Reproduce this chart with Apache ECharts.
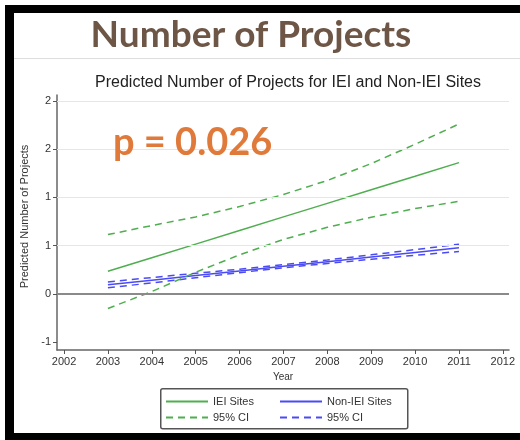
<!DOCTYPE html>
<html>
<head>
<meta charset="utf-8">
<script src="https://cdn.jsdelivr.net/npm/echarts@6/dist/echarts.min.js"></script>
<style>html,body{margin:0;padding:0;background:#fff;overflow:hidden;}#c{width:520px;height:440px;}</style>
</head>
<body>
<div id="c"></div>
<script>
const years = [2003, 2004, 2005, 2006, 2007, 2008, 2009, 2010, 2011];
const ieiFit   = [0.235, 0.376, 0.516, 0.657, 0.798, 0.938, 1.079, 1.219, 1.36];
const ieiUpper = [0.615, 0.708, 0.798, 0.905, 1.03, 1.175, 1.35, 1.55, 1.76];
const ieiLower = [-0.15, 0.025, 0.225, 0.405, 0.565, 0.69, 0.795, 0.884, 0.96];
const nonFit   = [0.095, 0.143, 0.191, 0.239, 0.287, 0.334, 0.382, 0.43, 0.478];
const nonUpper = [0.125, 0.17, 0.214, 0.257, 0.303, 0.352, 0.405, 0.459, 0.515];
const nonLower = [0.065, 0.114, 0.168, 0.221, 0.271, 0.316, 0.359, 0.401, 0.44];
const xTickYears = [2002, 2003, 2004, 2005, 2006, 2007, 2008, 2009, 2010, 2011, 2012];
const yTickValues = [-0.5, 0, 0.5, 1, 1.5, 2];
const yTickLabels = ['-1', '0', '1', '1', '2', '2'];
const gridValues = [0.5, 1, 1.5, 2];
const legendIEI = ['IEI Sites', 'IEI 95% CI'];
const legendNon = ['Non-IEI Sites', 'Non-IEI 95% CI'];
const legendLabel = {'IEI Sites': 'IEI Sites', 'IEI 95% CI': '95% CI', 'Non-IEI Sites': 'Non-IEI Sites', 'Non-IEI 95% CI': '95% CI'};

const GREEN = '#4fae4f';
const BLUE = '#4b4bf5';
const pair = arr => years.map((y, i) => [y, arr[i]]);

const chart = echarts.init(document.getElementById('c'), null, {renderer: 'canvas'});
const FONT = '"Liberation Sans", Arial, sans-serif';

function lineSeries(name, data, color, dashed, extra) {
  return Object.assign({
    name: name,
    type: 'line',
    data: pair(data),
    symbol: 'none',
    silent: true,
    lineStyle: {color: color, width: 1.5, type: dashed ? [7, 5] : 'solid'},
    itemStyle: {color: color},
    z: 3
  }, extra || {});
}

function legendAt(names, left) {
  return {
    data: names, left: left, top: 396, orient: 'vertical',
    itemWidth: 42, itemHeight: 12, itemGap: 5, padding: 0,
    itemStyle: {opacity: 0, borderWidth: 0},
    selectedMode: false,
    textStyle: {fontFamily: FONT, fontSize: 11, color: '#333'},
    formatter: name => legendLabel[name]
  };
}

const option = {
  animation: false,
  backgroundColor: '#fff',
  grid: {left: 57, right: 11, top: 95, bottom: 90},
  xAxis: {
    type: 'value', min: 2001.84, max: 2012.14,
    name: 'Year', nameLocation: 'middle', nameGap: 22,
    nameTextStyle: {fontFamily: FONT, fontSize: 10, color: '#333'},
    axisLine: {show: true, onZero: false, lineStyle: {color: '#666', width: 1.5}},
    axisTick: {show: true, length: 4, customValues: xTickYears, lineStyle: {color: '#555'}},
    axisLabel: {customValues: xTickYears, fontFamily: FONT, fontSize: 11, color: '#333', margin: 6,
      formatter: v => String(v)},
    splitLine: {show: false}
  },
  yAxis: {
    type: 'value', min: -0.58, max: 2.06,
    name: 'Predicted Number of Projects', nameLocation: 'middle', nameGap: 25, nameRotate: 90,
    nameTextStyle: {fontFamily: FONT, fontSize: 11, color: '#333', padding: [0, 0, 0, 12]},
    axisLine: {show: true, onZero: false, lineStyle: {color: '#666', width: 1.5}},
    axisTick: {show: true, length: 4, customValues: yTickValues, lineStyle: {color: '#555'}},
    axisLabel: {customValues: yTickValues, fontFamily: FONT, fontSize: 11, color: '#333', margin: 6,
      formatter: v => {
        const i = yTickValues.findIndex(t => Math.abs(t - v) < 1e-6);
        return i >= 0 ? yTickLabels[i] : '';
      }},
    splitLine: {show: false}
  },
  legend: [legendAt(legendIEI, 165), legendAt(legendNon, 279)],
  series: [
    lineSeries('gridref', [], '#000', false, {
      data: [], legendHoverLink: false, z: 1,
      markLine: {
        silent: true, symbol: 'none', label: {show: false},
        data: gridValues.map(v => ({yAxis: v, lineStyle: {color: '#e6e6e6', width: 1.2, type: 'solid'}}))
          .concat([{yAxis: 0, lineStyle: {color: '#8a8a8a', width: 2, type: 'solid'}}])
      }
    }),
    lineSeries('Non-IEI Sites', nonFit, BLUE, false),
    lineSeries('Non-IEI 95% CI', nonUpper, BLUE, true),
    lineSeries('Non-IEI 95% CI', nonLower, BLUE, true),
    lineSeries('IEI Sites', ieiFit, GREEN, false),
    lineSeries('IEI 95% CI', ieiUpper, GREEN, true),
    lineSeries('IEI 95% CI', ieiLower, GREEN, true)
  ],
  graphic: [
    {type: 'rect', left: 160, top: 388, z: 0, shape: {width: 247, height: 40, r: 2},
      style: {fill: '#fff', stroke: '#555', lineWidth: 1.5}, silent: true},
    {type: 'rect', left: 5, top: 5, z: 100, shape: {width: 515, height: 8}, style: {fill: '#000'}, silent: true},
    {type: 'rect', left: 5, top: 5, z: 100, shape: {width: 9, height: 435}, style: {fill: '#000'}, silent: true},
    {type: 'rect', left: 5, top: 433, z: 100, shape: {width: 515, height: 7}, style: {fill: '#000'}, silent: true},
    {type: 'rect', left: 14, top: 58, z: 100, shape: {width: 506, height: 1}, style: {fill: '#dedede'}, silent: true},
    {type: 'text', x: 251, y: 35, z: 100, silent: true,
      style: {text: 'Number of Projects', fill: '#6e5646', font: 'bold 37px Lato, sans-serif',
        textAlign: 'center', textVerticalAlign: 'middle'}},
    {type: 'text', x: 288, y: 83, z: 100, silent: true,
      style: {text: 'Predicted Number of Projects for IEI and Non-IEI Sites', fill: '#222',
        font: '16px "Liberation Sans", Arial, sans-serif', textAlign: 'center', textVerticalAlign: 'middle'}},
    {type: 'text', x: 113, y: 143, z: 100, silent: true,
      style: {text: 'p = 0.026', fill: '#e07a3a', font: 'bold 38px Lato, sans-serif',
        textAlign: 'left', textVerticalAlign: 'middle'}}
  ]
};
chart.setOption(option);
</script>
</body>
</html>
